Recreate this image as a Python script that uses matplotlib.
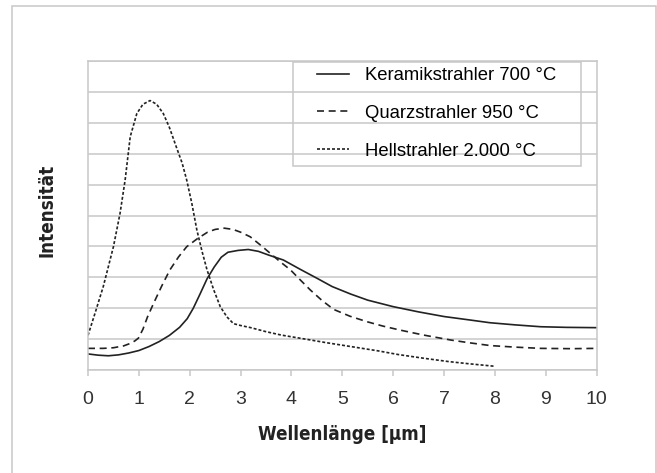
import matplotlib
matplotlib.use('Agg')
import matplotlib.pyplot as plt
from matplotlib.patches import Rectangle

# values (x in um, y in grid units 0..10)
keramik_x = [0.0, 0.2, 0.4, 0.6, 0.8, 1.0, 1.2, 1.4, 1.6, 1.8, 1.95, 2.07, 2.2, 2.34, 2.48, 2.62,
             2.75, 2.95, 3.15, 3.35, 3.55, 3.84, 4.17, 4.5, 4.8, 5.16, 5.5, 6.0, 6.5, 7.0, 7.5,
             7.9, 8.4, 8.9, 9.4, 10.0]
keramik_y = [0.52, 0.48, 0.46, 0.49, 0.55, 0.63, 0.76, 0.92, 1.12, 1.38, 1.66, 2.0, 2.45, 2.95, 3.33, 3.65,
             3.81, 3.87, 3.9, 3.84, 3.72, 3.56, 3.26, 2.97, 2.7, 2.46, 2.26, 2.05, 1.88, 1.73, 1.62,
             1.53, 1.46, 1.4, 1.38, 1.37]

quarz_x = [0.0, 0.3, 0.5, 0.7, 0.83, 0.92, 0.99, 1.08, 1.17, 1.29, 1.45, 1.61, 1.78, 1.94, 2.15,
           2.35, 2.5, 2.68, 2.85, 3.0, 3.19, 3.4, 3.58, 3.78, 3.98, 4.17, 4.37, 4.6, 4.83, 5.15,
           5.49, 5.8, 6.14, 6.6, 7.13, 7.5, 7.91, 8.4, 8.9, 9.5, 10.0]
quarz_y = [0.70, 0.70, 0.72, 0.78, 0.86, 0.94, 1.03, 1.32, 1.72, 2.16, 2.72, 3.24, 3.66, 3.99, 4.25,
           4.46, 4.55, 4.59, 4.55, 4.46, 4.31, 4.03, 3.78, 3.5, 3.24, 2.92, 2.59, 2.25, 1.96, 1.74,
           1.56, 1.42, 1.29, 1.13, 0.97, 0.88, 0.79, 0.74, 0.70, 0.69, 0.70]

hell_x = [0.0, 0.15, 0.3, 0.5, 0.63, 0.73, 0.83, 0.96, 1.08, 1.22, 1.35, 1.48, 1.6, 1.74, 1.85,
          1.94, 2.04, 2.14, 2.24, 2.34, 2.47, 2.6, 2.73, 2.86, 3.0, 3.2, 3.5, 3.8, 4.2, 4.7,
          5.2, 5.7, 6.1, 6.6, 7.1, 7.5, 8.0]
hell_y = [1.12, 1.9, 2.7, 3.99, 5.07, 6.15, 7.55, 8.3, 8.6, 8.72, 8.6, 8.3, 7.85, 7.2, 6.7,
          6.15, 5.4, 4.53, 3.85, 3.24, 2.6, 2.05, 1.72, 1.5, 1.44, 1.37, 1.24, 1.13, 1.02, 0.88,
          0.75, 0.62, 0.5, 0.38, 0.27, 0.2, 0.12]

labels = ['Keramikstrahler 700 °C', 'Quarzstrahler 950 °C', 'Hellstrahler 2.000 °C']
x_ticks = [0, 1, 2, 3, 4, 5, 6, 7, 8, 9, 10]

grey = '#c8c8c8'
ink = '#222222'

fig = plt.figure(figsize=(6.57, 4.73), dpi=100)
ax = fig.add_axes([88 / 657, 1 - 370 / 473, 508.7 / 657, 309 / 473])

# outer light frame
fig.patches.append(Rectangle((12 / 657, -0.05), 644 / 657, 1.05 - 6 / 473,
                             transform=fig.transFigure, fill=False, ec=grey, lw=1.1))

ax.plot(keramik_x, keramik_y, color=ink, lw=1.2, label=labels[0])
ax.plot(quarz_x, quarz_y, color=ink, lw=1.2, dashes=(4.2, 2.8), label=labels[1])
ax.plot(hell_x, hell_y, color=ink, lw=1.2, dashes=(1.8, 1.2), label=labels[2])

ax.set_xlim(0, 10)
ax.set_ylim(0, 10)
ax.set_yticks(range(0, 11))
ax.set_yticklabels([])
ax.set_xticks(x_ticks)
ax.set_xticklabels([str(t) for t in x_ticks], fontsize=14, color='#333333', family='Liberation Sans')
ax.tick_params(axis='y', length=0)
ax.tick_params(axis='x', direction='out', length=4.3, width=1.1, color=grey, pad=11)
ax.grid(axis='y', color=grey, lw=1.1)
ax.set_axisbelow(True)
for s in ax.spines.values():
    s.set_color(grey)
    s.set_linewidth(1.1)

# legend box drawn separately, gridlines show through it
ax.add_patch(Rectangle((0.4036, 0.660), 0.565, 0.338, transform=ax.transAxes,
                       fill=False, ec=grey, lw=1.1, zorder=5, clip_on=False))
ax.legend(loc='upper left', bbox_to_anchor=(0.4496, 0.98), frameon=False,
          borderpad=0, borderaxespad=0, handlelength=1.73, handletextpad=0.9,
          labelspacing=1.12, prop={'family': 'Liberation Sans', 'size': 13.3})

lab_font = dict(fontsize=13.5, fontweight='bold', family='DejaVu Sans', stretch='condensed', color=ink)
fig.text(342 / 657, 1 - 434 / 473, 'Wellenlänge [µm]', ha='center', va='center', **lab_font)
fig.text(47.5 / 657, 1 - 210 / 473, 'Intensität', ha='center', va='center', rotation=90, **lab_font)

fig.savefig('out.png', dpi=100)
